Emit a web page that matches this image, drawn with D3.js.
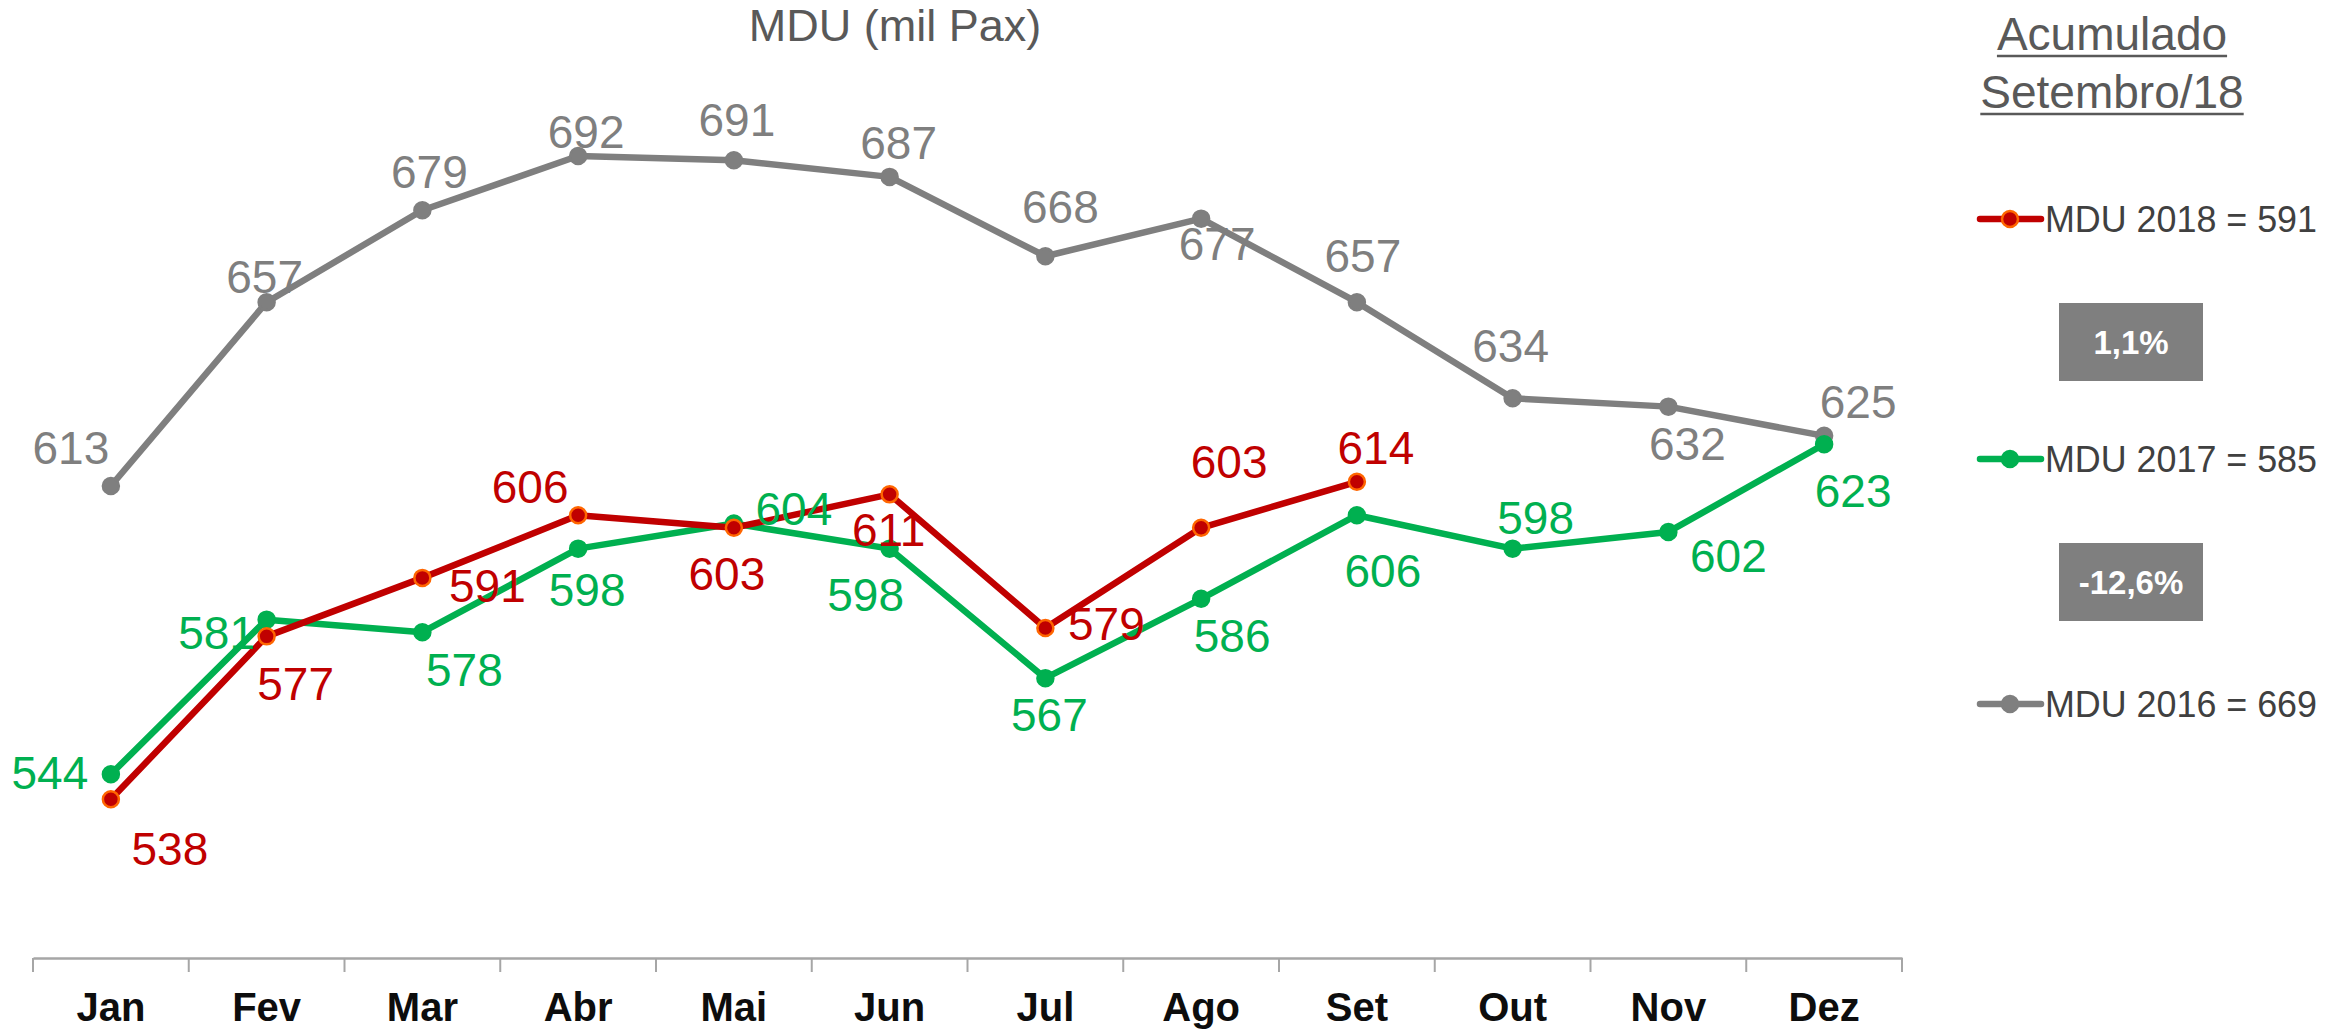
<!DOCTYPE html>
<html>
<head>
<meta charset="utf-8">
<script src="https://cdn.jsdelivr.net/npm/d3@7"></script>
<style>
  html, body { margin: 0; padding: 0; background: #fff; }
  svg { display: block; font-family: Arial, "Liberation Sans", sans-serif; }
</style>
</head>
<body>
<svg id="chart" width="2334" height="1030"></svg>
<script>
var months = ["Jan", "Fev", "Mar", "Abr", "Mai", "Jun", "Jul", "Ago", "Set", "Out", "Nov", "Dez"];
var mdu2018 = [538, 577, 591, 606, 603, 611, 579, 603, 614];
var mdu2017 = [544, 581, 578, 598, 604, 598, 567, 586, 606, 598, 602, 623];
var mdu2016 = [613, 657, 679, 692, 691, 687, 668, 677, 657, 634, 632, 625];
var legendNames = ["MDU 2018 = 591", "MDU 2017 = 585", "MDU 2016 = 669"];
var variations = ["1,1%", "-12,6%"];

// label offsets (px) from each point, as placed in the original
var off2018 = [[59,49],[29,47],[65,8],[-48,-29],[-7,46],[-1,35],[61,-5],[28,-66],[19,-34]];
var off2017 = [[-61,-2],[-50,13],[42,37],[9,41],[60,-15],[-24,46],[4,36],[31,37],[26,55],[23,-31],[60,24],[29,46]];
var off2016 = [[-40,-39],[-2,-26],[7,-39],[8,-25],[3,-41],[9,-34],[15,-50],[16,25],[6,-47],[-2,-53],[19,37],[34,-34]];

var svg = d3.select("#chart");

var x = d3.scaleBand().domain(months).range([33, 1902]);
var y = d3.scaleLinear().domain([500, 692]).range([958, 156]);

// title
svg.append("text")
  .attr("x", 895).attr("y", 41)
  .attr("text-anchor", "middle")
  .attr("fill", "#595959")
  .style("font-size", "45px")
  .text("MDU (mil Pax)");

// x axis
var xAxis = svg.append("g")
  .attr("transform", "translate(0,958)")
  .call(d3.axisBottom(x).tickSize(0).tickPadding(35));
xAxis.select(".domain").attr("stroke", "#a6a6a6").attr("stroke-width", 2.5);
xAxis.selectAll("text")
  .attr("fill", "#0d0d0d")
  .style("font-size", "40px")
  .style("font-weight", "bold");

var bounds = months.map(function(m) { return x(m); }).concat([x.range()[1]]);
xAxis.selectAll(".bound")
  .data(bounds)
  .enter().append("line")
    .attr("class", "bound")
    .attr("x1", function(d) { return d; })
    .attr("x2", function(d) { return d; })
    .attr("y1", 0).attr("y2", 14)
    .attr("stroke", "#a6a6a6")
    .attr("stroke-width", 2);

var series = [
  {values: mdu2016, offs: off2016, line: "#7f7f7f", fill: "#7f7f7f", stroke: "#7f7f7f", label: "#7f7f7f"},
  {values: mdu2017, offs: off2017, line: "#00b050", fill: "#00b050", stroke: "#00b050", label: "#00b050"},
  {values: mdu2018, offs: off2018, line: "#c00000", fill: "#c00000", stroke: "#ff6600", label: "#c00000"}
];

var line = d3.line()
  .x(function(d, i) { return x(months[i]) + x.bandwidth() / 2; })
  .y(function(d) { return y(d); });

series.forEach(function(s) {
  var g = svg.append("g");
  g.append("path")
    .datum(s.values)
    .attr("fill", "none")
    .attr("stroke", s.line)
    .attr("stroke-width", 6.5)
    .attr("stroke-linejoin", "round")
    .attr("d", line);

  g.selectAll("circle")
    .data(s.values)
    .enter().append("circle")
      .attr("cx", function(d, i) { return x(months[i]) + x.bandwidth() / 2; })
      .attr("cy", function(d) { return y(d); })
      .attr("r", 8)
      .attr("fill", s.fill)
      .attr("stroke", s.stroke)
      .attr("stroke-width", 2.5);
});

// labels drawn after all lines
series.forEach(function(s) {
  svg.append("g").selectAll("text")
    .data(s.values)
    .enter().append("text")
      .attr("x", function(d, i) { return x(months[i]) + x.bandwidth() / 2 + s.offs[i][0]; })
      .attr("y", function(d, i) { return y(d) + s.offs[i][1]; })
      .attr("dy", "0.36em")
      .attr("text-anchor", "middle")
      .attr("fill", s.label)
      .style("font-size", "46px")
      .text(function(d) { return d; });
});

// right side panel
var head = svg.append("g").attr("fill", "#595959").style("font-size", "46px");
["Acumulado", "Setembro/18"].forEach(function(t, i) {
  var txt = head.append("text")
    .attr("x", 2112).attr("y", 50 + i * 58)
    .attr("text-anchor", "middle")
    .text(t);
  var w = txt.node().getComputedTextLength();
  head.append("line")
    .attr("x1", 2112 - w / 2).attr("x2", 2112 + w / 2)
    .attr("y1", 56 + i * 58).attr("y2", 56 + i * 58)
    .attr("stroke", "#595959").attr("stroke-width", 2.5);
});

var legendY = [219, 459, 704];
var legendStyle = [series[2], series[1], series[0]];
var leg = svg.append("g");
legendNames.forEach(function(name, i) {
  var s = legendStyle[i];
  leg.append("line")
    .attr("x1", 1980).attr("x2", 2041)
    .attr("y1", legendY[i]).attr("y2", legendY[i])
    .attr("stroke", s.line).attr("stroke-width", 6.5)
    .attr("stroke-linecap", "round");
  leg.append("circle")
    .attr("cx", 2010).attr("cy", legendY[i]).attr("r", 8)
    .attr("fill", s.fill).attr("stroke", s.stroke).attr("stroke-width", 2.5);
  leg.append("text")
    .attr("x", 2045).attr("y", legendY[i]).attr("dy", "0.36em")
    .attr("fill", "#404040")
    .attr("textLength", 272)
    .attr("lengthAdjust", "spacingAndGlyphs")
    .style("font-size", "36px")
    .text(name);
});

var boxY = [303, 543];
variations.forEach(function(v, i) {
  svg.append("rect")
    .attr("x", 2059).attr("y", boxY[i])
    .attr("width", 144).attr("height", 78)
    .attr("fill", "#7f7f7f");
  svg.append("text")
    .attr("x", 2131).attr("y", boxY[i] + 39).attr("dy", "0.36em")
    .attr("text-anchor", "middle")
    .attr("fill", "#fff")
    .style("font-size", "33px")
    .style("font-weight", "bold")
    .text(v);
});
</script>
</body>
</html>
